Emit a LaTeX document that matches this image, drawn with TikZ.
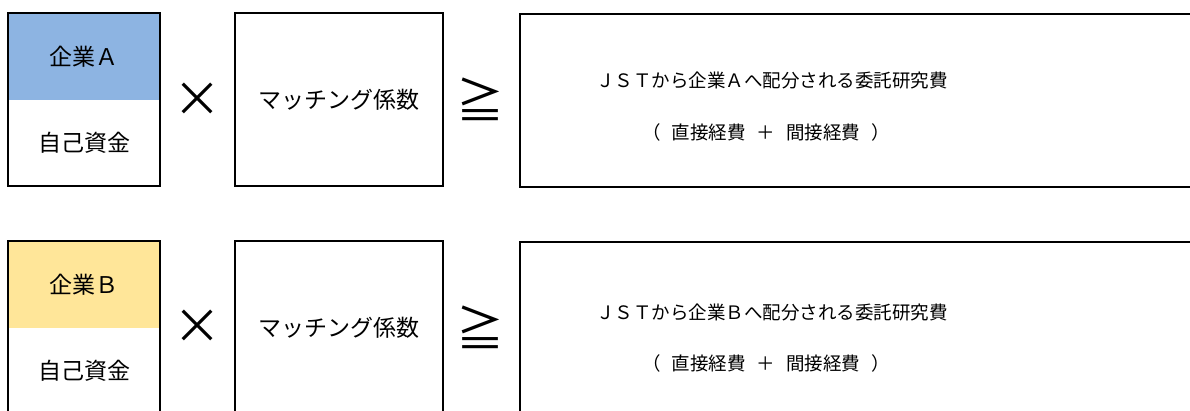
\documentclass[tikz,border=0pt]{standalone}
\usepackage{fontspec}
\setmainfont{Noto Sans CJK JP}
\definecolor{blueA}{RGB}{141,180,226}
\definecolor{yellowB}{RGB}{255,230,153}
\newcommand{\gapsp}{\hspace{0.6em}}
\tikzset{
  cell/.style={rectangle, inner sep=0pt, minimum width=152pt, minimum height=86.5pt,
    anchor=north west, font=\fontsize{23}{28}\selectfont},
  frame/.style={draw=black, line width=2pt},
  box/.style={rectangle, frame, inner sep=0pt, font=\fontsize{23}{28}\selectfont},
  op/.style={inner sep=0pt, font=\fontsize{48}{50}\selectfont},
  bigtext/.style={inner sep=0pt, font=\fontsize{18.5}{22}\selectfont}
}
\begin{document}
\begin{tikzpicture}[x=1pt,y=-1pt]
\useasboundingbox (0,0) rectangle (1190,410);
% Row A
\node[cell, fill=blueA] (compA) at (8,13) {企業Ａ};
\node[cell] (fundA) at (8,99.5) {自己資金};
\draw[frame] (compA.north west) rectangle (fundA.south east);
\node[op] (timesA) at (197,100) {×};
\node[box, minimum width=208pt, minimum height=173pt] (matchA) at (339,99.5) {マッチング係数};
\node[op] (geA) at (480,99) {≧};
\node[box, minimum width=700pt, minimum height=173pt, anchor=north west] (bigA) at (519,13) {};
\node[bigtext] (jstA) at (772,80) {ＪＳＴから企業Ａへ配分される委託研究費};
\node[bigtext] (costA) at (766,132) {（\gapsp 直接経費\gapsp ＋\gapsp 間接経費\gapsp ）};
% Row B
\node[cell, fill=yellowB] (compB) at (8,241) {企業Ｂ};
\node[cell] (fundB) at (8,327.5) {自己資金};
\draw[frame] (compB.north west) rectangle (fundB.south east);
\node[op] (timesB) at (197,327) {×};
\node[box, minimum width=208pt, minimum height=173pt] (matchB) at (339,327.5) {マッチング係数};
\node[op] (geB) at (480,327) {≧};
\node[box, minimum width=700pt, minimum height=173pt, anchor=north west] (bigB) at (519,241) {};
\node[bigtext] (jstB) at (772,312) {ＪＳＴから企業Ｂへ配分される委託研究費};
\node[bigtext] (costB) at (766,363) {（\gapsp 直接経費\gapsp ＋\gapsp 間接経費\gapsp ）};
\end{tikzpicture}
\end{document}
